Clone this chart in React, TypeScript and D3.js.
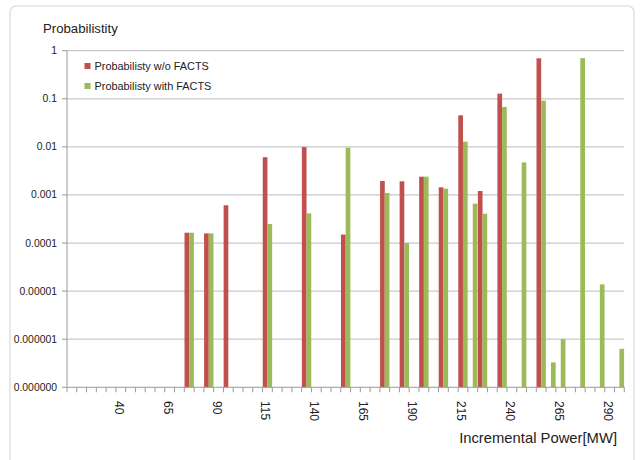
import React from "react";
import * as d3 from "d3";

const categories: number[] = [
  15, 20, 25, 30, 35, 40, 45, 50, 55, 60, 65, 70, 75, 80, 85, 90, 95, 100, 105,
  110, 115, 120, 125, 130, 135, 140, 145, 150, 155, 160, 165, 170, 175, 180,
  185, 190, 195, 200, 205, 210, 215, 220, 225, 230, 235, 240, 245, 250, 255,
  260, 265, 270, 275, 280, 285, 290, 295,
];

const xTickLabels: number[] = [40, 65, 90, 115, 140, 165, 190, 215, 240, 265, 290];

const woCategories: number[] = [75, 85, 95, 115, 135, 155, 175, 185, 195, 205, 215, 225, 235, 255];
const woValues: number[] = [
  1.64e-4, 1.59e-4, 6.1e-4, 6.1e-3, 0.0099, 1.5e-4, 1.95e-3, 1.92e-3, 2.4e-3,
  1.44e-3, 0.0453, 1.21e-3, 0.128, 0.695,
];

const withCategories: number[] = [
  75, 85, 115, 135, 155, 175, 185, 195, 205, 215, 220, 225, 235, 245, 255, 260,
  265, 275, 285, 295,
];
const withValues: number[] = [
  1.64e-4, 1.59e-4, 2.48e-4, 4.14e-4, 9.6e-3, 1.1e-3, 1.0e-4, 2.4e-3, 1.35e-3,
  0.0128, 6.6e-4, 4.07e-4, 0.0675, 4.75e-3, 0.0912, 3.3e-7, 1.0e-6, 0.7,
  1.38e-5, 6.3e-7,
];

const yTickValues: number[] = [1, 0.1, 0.01, 0.001, 0.0001, 0.00001, 0.000001, 0.0000001];
const yTickLabels: string[] = ["1", "0.1", "0.01", "0.001", "0.0001", "0.00001", "0.000001", "0.000000"];

const seriesNames: string[] = ["Probabilisty w/o FACTS", "Probabilisty with FACTS"];
const seriesColors: string[] = ["#C0504D", "#9BBB59"];

const W = 640;
const H = 460;
const left = 67;
const right = 624.3;
const top = 50.7;
const bottom = 387.3;
const FONT = "'Liberation Sans', Arial, sans-serif";

export default function App() {
  const x = d3
    .scaleBand<number>()
    .domain(categories)
    .range([left, right])
    .paddingInner(0.04)
    .paddingOuter(0.02);
  const step = x.step();
  const inner = d3.scaleBand<number>().domain([0, 1]).range([0, x.bandwidth()]);
  const y = d3.scaleLog().domain([1e-7, 1]).range([bottom, top]);

  const series = [
    { cats: woCategories, vals: woValues },
    { cats: withCategories, vals: withValues },
  ];

  const boundaries = d3.range(categories.length + 1).map((i) => left + i * step);

  return (
    <svg
      width={W}
      height={H}
      style={{ position: "absolute", left: 0, top: 0, background: "#fff" }}
    >
      <rect x={0} y={0} width={W} height={H} fill="#fff" />
      <rect
        x={10}
        y={6}
        width={624}
        height={470}
        rx={6}
        fill="#fff"
        stroke="#D9D9D9"
        strokeWidth={1.2}
      />
      {/* gridlines */}
      {yTickValues.slice(0, -1).map((v, i) => (
        <line
          key={"g" + i}
          x1={left}
          x2={right}
          y1={y(v)}
          y2={y(v)}
          stroke="#C8C8C8"
          strokeWidth={1.3}
        />
      ))}
      {/* bars */}
      {series.map((s, si) =>
        s.cats.map((c, i) => {
          const bx = (x(c) as number) + (inner(si) as number);
          const by = y(s.vals[i]);
          return (
            <rect
              key={si + "-" + c}
              x={bx}
              y={by}
              width={inner.bandwidth()}
              height={bottom - by}
              fill={seriesColors[si]}
            />
          );
        })
      )}
      {/* y axis */}
      <line x1={left} x2={left} y1={top} y2={bottom} stroke="#9A9A9A" strokeWidth={1} />
      {yTickValues.map((v, i) => (
        <g key={"yt" + i}>
          <line x1={left - 5} x2={left} y1={y(v)} y2={y(v)} stroke="#9A9A9A" />
          <text
            x={57}
            y={y(v)}
            textAnchor="end"
            dominantBaseline="central"
            fontFamily={FONT}
            fontSize={10.4}
            fill="#222"
          >
            {yTickLabels[i]}
          </text>
        </g>
      ))}
      {/* x axis */}
      <line x1={left} x2={right} y1={bottom} y2={bottom} stroke="#9A9A9A" strokeWidth={1} />
      {boundaries.map((bx, i) => (
        <line key={"xt" + i} x1={bx} x2={bx} y1={bottom} y2={bottom + 5} stroke="#9A9A9A" />
      ))}
      {xTickLabels.map((c) => {
        const cx = (x(c) as number) + x.bandwidth() / 2 - 2;
        return (
          <text
            key={"xl" + c}
            transform={`translate(${cx},${401}) rotate(90)`}
            textAnchor="start"
            dominantBaseline="central"
            fontFamily={FONT}
            fontSize={12}
            fill="#222"
          >
            {c}
          </text>
        );
      })}
      {/* titles */}
      <text x={43} y={33} fontFamily={FONT} fontSize={13.2} fill="#222">
        Probabilistity
      </text>
      <text x={617} y={443} textAnchor="end" fontFamily={FONT} fontSize={14.8} fill="#222">
        Incremental Power[MW]
      </text>
      {/* legend */}
      {seriesNames.map((n, i) => (
        <g key={"lg" + i}>
          <rect x={84.5} y={63 + i * 20} width={6} height={6} fill={seriesColors[i]} />
          <text
            x={94.5}
            y={66 + i * 20}
            dominantBaseline="central"
            fontFamily={FONT}
            fontSize={10.9}
            fill="#222"
          >
            {n}
          </text>
        </g>
      ))}
    </svg>
  );
}
